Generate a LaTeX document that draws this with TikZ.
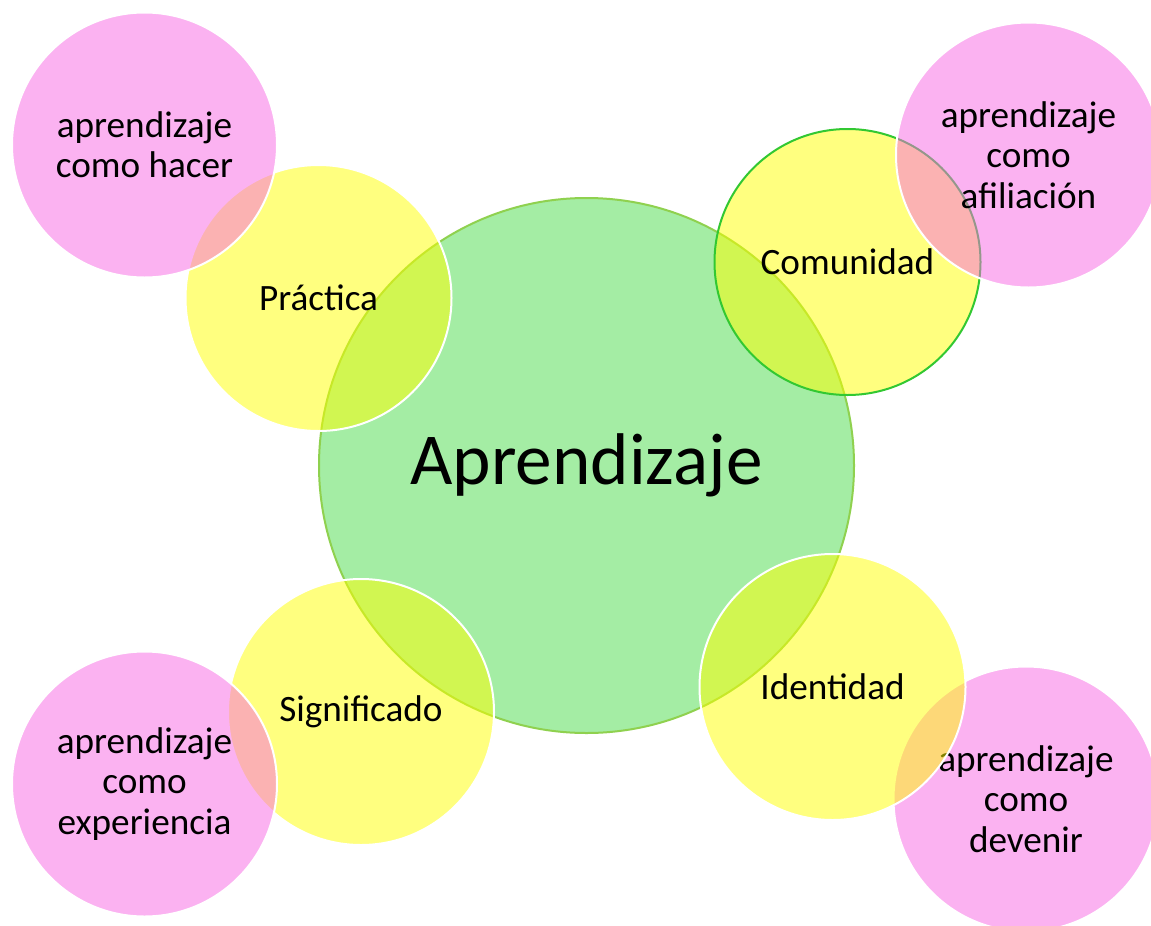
\documentclass[tikz,border=0pt]{standalone}
\usepackage{fontspec}
\setmainfont{Carlito}
\definecolor{gfill}{RGB}{164,237,164}
\definecolor{gline}{RGB}{143,209,79}
\definecolor{cline}{RGB}{50,200,50}
\definecolor{pk}{RGB}{249,103,229}
\definecolor{ylw}{RGB}{255,255,0}
\begin{document}
\begin{tikzpicture}[x=0.5pt,y=-0.5pt,
  bubble/.style={circle,inner sep=0pt,text opacity=1,align=center,
    font=\fontsize{18.6}{20.2}\selectfont},
  core/.style={bubble,fill=gfill,draw=gline,line width=1pt,minimum size=267.5pt,
    font=\fontsize{36.6}{40}\selectfont},
  yel/.style={bubble,fill=ylw,fill opacity=0.5,draw=white,line width=1pt,minimum size=133pt},
  pnk/.style={bubble,fill=pk,fill opacity=0.5,draw=white,line width=1pt,minimum size=132.5pt}]
\useasboundingbox (0,0) rectangle (1151,926);
\clip (0,0) rectangle (1151,926);
\fill[white] (0,0) rectangle (1151,926);
\node[core] (core) at (586.5,465.5) {Aprendizaje};
\node[yel] (prac) at (318.5,298) {Práctica};
\node[yel,draw=cline] (comu) at (847.5,262) {Comunidad};
\node[yel] (sign) at (361,712) {Significado};
\node[pnk] (hacer) at (144.5,145) {aprendizaje\\como hacer};
\node[pnk] (afil) at (1028.5,155) {aprendizaje\\como\\afiliación};
\node[pnk] (exper) at (144.5,784) {aprendizaje\\como\\experiencia};
\node[pnk] (deven) at (1026,799) {aprendizaje\\como\\devenir};
\node[yel] (iden) at (832.5,687) {Identidad};
\end{tikzpicture}
\end{document}
